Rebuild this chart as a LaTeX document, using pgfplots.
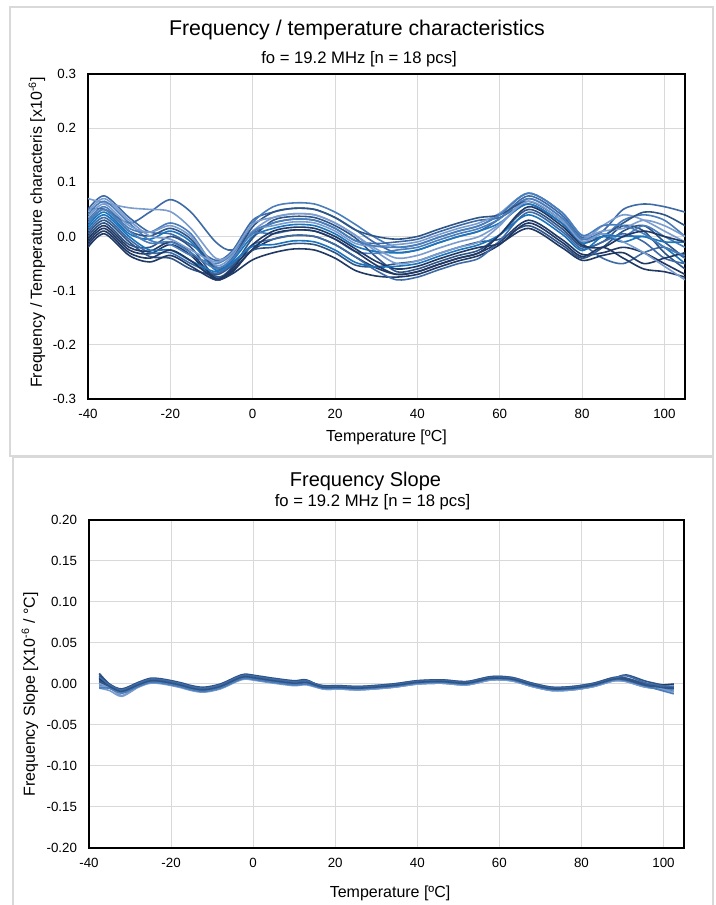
\documentclass[border=0pt]{standalone}
\usepackage{pgfplots}
\pgfplotsset{compat=1.18}
\usepackage{fontspec}
\setmainfont{Liberation Sans}
\definecolor{cA}{HTML}{203864}
\definecolor{cB}{HTML}{2F5587}
\definecolor{cC}{HTML}{3E6AA6}
\definecolor{cD}{HTML}{4A7EBB}
\definecolor{cE}{HTML}{7A9CCF}
\definecolor{cF}{HTML}{1C75BC}
\definecolor{gridc}{HTML}{D9D9D9}
\definecolor{panelc}{HTML}{D9D9D9}
\pgfplotsset{
  chartbase/.style={
    scale only axis,
    xmin=-40, xmax=105,
    xtick={-40,-20,0,20,40,60,80,100},
    grid=major,
    major grid style={draw=gridc, line width=0.75pt},
    axis line style={black, line width=1pt},
    major tick length=0pt,
    ticklabel style={font=\fontsize{10}{12}\selectfont},
    xticklabel style={yshift=-4pt},
    yticklabel style={xshift=-5.5pt},
    label style={font=\fontsize{12}{14}\selectfont},
    /pgf/number format/assume math mode=true,
    every axis plot/.append style={smooth, line width=1.2pt, mark=none},
  }
}
\begin{document}
\begin{tikzpicture}
\path[use as bounding box] (0pt,0pt) rectangle (536.25pt,678.75pt);
\draw[panelc, line width=0.8pt] (7.5pt,336.75pt) rectangle (534.75pt,673.5pt);
\draw[panelc, line width=0.8pt] (9.75pt,-2pt) -- (9.75pt,336pt) -- (534.75pt,336pt) -- (534.75pt,-2pt);
\node[font=\fontsize{16}{19}\selectfont] at (267.75pt,656.25pt) {Frequency / temperature characteristics};
\node[font=\fontsize{12.5}{15}\selectfont] at (269.25pt,634.5pt) {fo = 19.2 MHz [n = 18 pcs]};
\node[font=\fontsize{15}{18}\selectfont] at (274.1pt,318pt) {Frequency Slope};
\node[font=\fontsize{12.5}{15}\selectfont] at (279.4pt,302.25pt) {fo = 19.2 MHz [n = 18 pcs]};

\begin{axis}[chartbase,
  at={(66pt,379.5pt)}, anchor=south west,
  width=447.75pt, height=243.75pt,
  ymin=-0.3, ymax=0.3,
  ytick={-0.3,-0.2,-0.1,0,0.1,0.2,0.3},
  yticklabel style={/pgf/number format/.cd, fixed, fixed zerofill, precision=1},
  xlabel={Temperature [ºC]},
  ylabel={Frequency / Temperature characteris [x10\textsuperscript{-6}]},
  xlabel style={at={(axis description cs:0.5,-0.117)}, anchor=center},
  ylabel style={at={(axis description cs:-0.0854,0.512)}, anchor=center},
]
\addplot[cC] coordinates {(-40,0.050) (-36,0.075) (-30,0.035) (-25,0.008) (-20,0.005) (-15,-0.015) (-9,-0.044) (-5,-0.027) (0,0.030) (5,0.045) (10,0.052) (15,0.050) (20,0.035) (25,0.012) (30,-0.013) (35,-0.030) (40,-0.025) (45,-0.012) (50,0.000) (55,0.010) (60,0.033) (67,0.075) (75,0.040) (80,-0.002) (85,0.010) (90,0.050) (95,0.060) (100,0.055) (105,0.045)};
\addplot[cA] coordinates {(-40,-0.010) (-36,0.015) (-30,-0.025) (-25,-0.032) (-20,-0.015) (-15,-0.035) (-9,-0.080) (-5,-0.063) (0,-0.025) (5,-0.005) (10,0.002) (15,0.000) (20,-0.015) (25,-0.038) (30,-0.058) (35,-0.070) (40,-0.065) (45,-0.052) (50,-0.040) (55,-0.030) (60,-0.010) (67,0.030) (75,-0.005) (80,-0.033) (85,-0.030) (90,-0.020) (95,-0.030) (100,-0.050) (105,-0.070)};
\addplot[cD] coordinates {(-40,0.030) (-36,0.055) (-30,0.015) (-25,0.008) (-20,0.025) (-15,0.005) (-9,-0.056) (-5,-0.039) (0,0.025) (5,0.055) (10,0.062) (15,0.060) (20,0.045) (25,0.022) (30,-0.003) (35,-0.020) (40,-0.015) (45,-0.002) (50,0.010) (55,0.020) (60,0.040) (67,0.080) (75,0.045) (80,0.002) (85,0.000) (90,0.030) (95,0.040) (100,0.030) (105,0.000)};
\addplot[cB] coordinates {(-40,0.005) (-36,0.030) (-30,-0.010) (-25,-0.037) (-20,-0.040) (-15,-0.060) (-9,-0.071) (-5,-0.054) (0,-0.025) (5,-0.020) (10,-0.013) (15,-0.015) (20,-0.030) (25,-0.053) (30,-0.056) (35,-0.050) (40,-0.045) (45,-0.032) (50,-0.020) (55,-0.010) (60,-0.005) (67,0.020) (75,-0.015) (80,-0.040) (85,-0.020) (90,0.010) (95,0.020) (100,-0.010) (105,-0.040)};
\addplot[cC] coordinates {(-40,0.050) (-36,0.050) (-30,0.025) (-25,0.045) (-20,0.068) (-15,0.045) (-9,-0.010) (-5,-0.025) (0,0.005) (5,0.025) (10,0.032) (15,0.030) (20,0.015) (25,-0.008) (30,-0.013) (35,-0.010) (40,-0.005) (45,0.008) (50,0.020) (55,0.030) (60,0.035) (67,0.060) (75,0.025) (80,-0.012) (85,-0.040) (90,-0.050) (95,-0.030) (100,-0.020) (105,-0.040)};
\addplot[cE] coordinates {(-40,0.070) (-36,0.062) (-30,0.053) (-25,0.050) (-20,0.046) (-15,0.015) (-9,-0.040) (-5,-0.033) (0,0.010) (5,0.035) (10,0.042) (15,0.040) (20,0.025) (25,0.002) (30,-0.028) (35,-0.050) (40,-0.045) (45,-0.032) (50,-0.020) (55,-0.010) (60,0.020) (67,0.070) (75,0.035) (80,-0.005) (85,0.020) (90,0.040) (95,0.030) (100,0.010) (105,-0.010)};
\addplot[cF] coordinates {(-40,0.020) (-36,0.045) (-30,0.005) (-25,-0.005) (-20,0.010) (-15,-0.010) (-9,-0.062) (-5,-0.045) (0,0.000) (5,0.015) (10,0.022) (15,0.020) (20,0.005) (25,-0.018) (30,-0.028) (35,-0.030) (40,-0.025) (45,-0.012) (50,0.000) (55,0.010) (60,0.025) (67,0.060) (75,0.025) (80,-0.012) (85,0.000) (90,-0.010) (95,0.000) (100,-0.020) (105,-0.050)};
\addplot[cB] coordinates {(-40,0.000) (-36,0.025) (-30,-0.015) (-25,-0.020) (-20,0.000) (-15,-0.020) (-9,-0.074) (-5,-0.057) (0,-0.003) (5,0.030) (10,0.037) (15,0.035) (20,0.020) (25,-0.003) (30,-0.038) (35,-0.065) (40,-0.060) (45,-0.047) (50,-0.035) (55,-0.025) (60,0.003) (67,0.050) (75,0.015) (80,-0.019) (85,-0.010) (90,0.020) (95,0.010) (100,-0.030) (105,-0.060)};
\addplot[cD] coordinates {(-40,0.040) (-36,0.065) (-30,0.025) (-25,-0.007) (-20,-0.015) (-15,-0.035) (-9,-0.050) (-5,-0.033) (0,0.005) (5,0.005) (10,0.012) (15,0.010) (20,-0.005) (25,-0.028) (30,-0.031) (35,-0.025) (40,-0.020) (45,-0.007) (50,0.005) (55,0.015) (60,0.033) (67,0.070) (75,0.035) (80,-0.005) (85,0.005) (90,0.000) (95,0.020) (100,0.000) (105,-0.020)};
\addplot[cA] coordinates {(-40,-0.020) (-36,0.005) (-30,-0.035) (-25,-0.047) (-20,-0.035) (-15,-0.055) (-9,-0.080) (-5,-0.069) (0,-0.043) (5,-0.030) (10,-0.023) (15,-0.025) (20,-0.040) (25,-0.063) (30,-0.073) (35,-0.075) (40,-0.070) (45,-0.057) (50,-0.045) (55,-0.035) (60,-0.015) (67,0.025) (75,-0.010) (80,-0.037) (85,-0.020) (90,-0.040) (95,-0.060) (100,-0.065) (105,-0.075)};
\addplot[cE] coordinates {(-40,0.035) (-36,0.060) (-30,0.020) (-25,0.008) (-20,0.020) (-15,0.000) (-9,-0.053) (-5,-0.036) (0,0.010) (5,0.020) (10,0.027) (15,0.025) (20,0.010) (25,-0.013) (30,-0.018) (35,-0.015) (40,-0.010) (45,0.003) (50,0.015) (55,0.025) (60,0.043) (67,0.080) (75,0.045) (80,0.002) (85,0.010) (90,0.015) (95,0.030) (100,0.020) (105,0.000)};
\addplot[cC] coordinates {(-40,0.010) (-36,0.035) (-30,-0.005) (-25,-0.030) (-20,-0.030) (-15,-0.050) (-9,-0.068) (-5,-0.051) (0,-0.015) (5,-0.005) (10,0.002) (15,0.000) (20,-0.015) (25,-0.038) (30,-0.063) (35,-0.080) (40,-0.075) (45,-0.062) (50,-0.050) (55,-0.040) (60,-0.008) (67,0.045) (75,0.010) (80,-0.023) (85,-0.010) (90,0.005) (95,-0.010) (100,-0.040) (105,-0.050)};
\addplot[cB] coordinates {(-40,0.025) (-36,0.050) (-30,0.010) (-25,0.001) (-20,0.015) (-15,-0.005) (-9,-0.059) (-5,-0.042) (0,0.018) (5,0.045) (10,0.052) (15,0.050) (20,0.035) (25,0.012) (30,0.000) (35,-0.005) (40,0.000) (45,0.013) (50,0.025) (55,0.035) (60,0.040) (67,0.065) (75,0.030) (80,-0.009) (85,0.000) (90,0.025) (95,0.045) (100,0.040) (105,0.020)};
\addplot[cA] coordinates {(-40,-0.005) (-36,0.020) (-30,-0.020) (-25,-0.027) (-20,-0.010) (-15,-0.030) (-9,-0.077) (-5,-0.060) (0,-0.015) (5,0.010) (10,0.017) (15,0.015) (20,0.000) (25,-0.023) (30,-0.046) (35,-0.060) (40,-0.055) (45,-0.042) (50,-0.030) (55,-0.020) (60,-0.013) (67,0.015) (75,-0.020) (80,-0.044) (85,-0.035) (90,-0.030) (95,-0.050) (100,-0.040) (105,-0.030)};
\addplot[cE] coordinates {(-40,0.045) (-36,0.070) (-30,0.030) (-25,0.001) (-20,-0.005) (-15,-0.025) (-9,-0.047) (-5,-0.030) (0,0.023) (5,0.035) (10,0.042) (15,0.040) (20,0.025) (25,0.002) (30,-0.023) (35,-0.040) (40,-0.035) (45,-0.022) (50,-0.010) (55,0.000) (60,0.023) (67,0.065) (75,0.030) (80,-0.009) (85,0.005) (90,-0.010) (95,-0.030) (100,-0.055) (105,-0.080)};
\addplot[cF] coordinates {(-40,0.015) (-36,0.040) (-30,0.000) (-25,-0.025) (-20,-0.025) (-15,-0.045) (-9,-0.065) (-5,-0.048) (0,-0.018) (5,-0.015) (10,-0.008) (15,-0.010) (20,-0.025) (25,-0.048) (30,-0.056) (35,-0.055) (40,-0.050) (45,-0.037) (50,-0.025) (55,-0.015) (60,0.003) (67,0.040) (75,0.005) (80,-0.026) (85,0.000) (90,0.000) (95,0.000) (100,-0.010) (105,-0.010)};
\addplot[cD] coordinates {(-40,0.025) (-36,0.050) (-30,0.010) (-25,-0.012) (-20,-0.010) (-15,-0.030) (-9,-0.059) (-5,-0.042) (0,0.008) (5,0.025) (10,0.032) (15,0.030) (20,0.015) (25,-0.008) (30,-0.018) (35,-0.020) (40,-0.015) (45,-0.002) (50,0.010) (55,0.020) (60,0.040) (67,0.080) (75,0.045) (80,0.002) (85,0.020) (90,0.020) (95,0.005) (100,-0.020) (105,-0.035)};
\addplot[cA] coordinates {(-40,-0.015) (-36,0.010) (-30,-0.030) (-25,-0.040) (-20,-0.025) (-15,-0.045) (-9,-0.078) (-5,-0.066) (0,-0.023) (5,0.005) (10,0.012) (15,0.010) (20,-0.005) (25,-0.028) (30,-0.053) (35,-0.070) (40,-0.065) (45,-0.052) (50,-0.040) (55,-0.030) (60,0.003) (67,0.055) (75,0.020) (80,-0.016) (85,-0.020) (90,0.000) (95,0.010) (100,0.000) (105,-0.010)};
\end{axis}

\begin{axis}[chartbase,
  at={(66.75pt,42.75pt)}, anchor=south west,
  width=446.25pt, height=246pt,
  ymin=-0.2, ymax=0.2,
  ytick={-0.2,-0.15,-0.1,-0.05,0,0.05,0.1,0.15,0.2},
  yticklabel style={/pgf/number format/.cd, fixed, fixed zerofill, precision=2},
  xlabel={Temperature [ºC]},
  ylabel={Frequency Slope [X10\textsuperscript{-6} / °C]},
  xlabel style={at={(axis description cs:0.506,-0.137)}, anchor=center},
  ylabel style={at={(axis description cs:-0.0992,0.468)}, anchor=center},
]
\addplot[cC] coordinates {(-37.5,0.012) (-35,-0.001) (-32,-0.007) (-28,0.001) (-25,0.006) (-22,0.005) (-18,0.001) (-15,-0.003) (-12,-0.005) (-8,-0.001) (-4,0.008) (-2,0.011) (1,0.009) (5,0.006) (10,0.003) (13,0.004) (17,-0.003) (21,-0.003) (26,-0.004) (34,-0.001) (40,0.003) (46,0.004) (52,0.002) (58,0.008) (63,0.007) (68,0.000) (73,-0.005) (78,-0.004) (83,0.000) (88,0.007) (91,0.006) (96,-0.001) (102.5,-0.004)};
\addplot[cA] coordinates {(-37.5,-0.004) (-35,-0.005) (-32,-0.011) (-28,-0.003) (-25,0.002) (-22,0.001) (-18,-0.003) (-15,-0.007) (-12,-0.009) (-8,-0.005) (-4,0.004) (-2,0.007) (1,0.005) (5,0.002) (10,-0.001) (13,0.000) (17,-0.005) (21,-0.005) (26,-0.006) (34,-0.003) (40,0.001) (46,0.002) (52,0.000) (58,0.006) (63,0.005) (68,-0.002) (73,-0.007) (78,-0.006) (83,-0.002) (88,0.005) (91,0.004) (96,-0.003) (102.5,-0.006)};
\addplot[cD] coordinates {(-37.5,0.008) (-35,-0.002) (-32,-0.008) (-28,0.000) (-25,0.005) (-22,0.004) (-18,0.000) (-15,-0.004) (-12,-0.006) (-8,-0.002) (-4,0.007) (-2,0.010) (1,0.008) (5,0.005) (10,0.002) (13,0.003) (17,-0.006) (21,-0.006) (26,-0.007) (34,-0.004) (40,0.000) (46,0.001) (52,-0.001) (58,0.005) (63,0.004) (68,-0.003) (73,-0.008) (78,-0.007) (83,-0.003) (88,0.004) (91,0.003) (96,-0.004) (102.5,-0.007)};
\addplot[cE] coordinates {(-37.5,0.000) (-35,-0.004) (-32,-0.014) (-28,-0.002) (-25,0.003) (-22,0.002) (-18,-0.002) (-15,-0.006) (-12,-0.008) (-8,-0.004) (-4,0.005) (-2,0.008) (1,0.006) (5,0.003) (10,0.000) (13,0.001) (17,-0.002) (21,-0.002) (26,-0.003) (34,0.000) (40,0.004) (46,0.005) (52,0.003) (58,0.009) (63,0.008) (68,0.001) (73,-0.004) (78,-0.003) (83,0.001) (88,0.008) (91,0.007) (96,0.000) (102.5,-0.003)};
\addplot[cB] coordinates {(-37.5,0.013) (-35,0.000) (-32,-0.006) (-28,0.002) (-25,0.007) (-22,0.006) (-18,0.002) (-15,-0.002) (-12,-0.004) (-8,0.000) (-4,0.009) (-2,0.012) (1,0.010) (5,0.007) (10,0.004) (13,0.005) (17,-0.004) (21,-0.004) (26,-0.005) (34,-0.002) (40,0.002) (46,0.003) (52,0.001) (58,0.007) (63,0.006) (68,-0.001) (73,-0.006) (78,-0.005) (83,-0.001) (88,0.007) (91,0.011) (96,0.003) (102.5,-0.004)};
\addplot[cC] coordinates {(-37.5,0.002) (-35,-0.003) (-32,-0.009) (-28,-0.001) (-25,0.004) (-22,0.003) (-18,-0.001) (-15,-0.005) (-12,-0.007) (-8,-0.003) (-4,0.006) (-2,0.009) (1,0.007) (5,0.004) (10,0.001) (13,0.002) (17,-0.003) (21,-0.003) (26,-0.004) (34,-0.001) (40,0.003) (46,0.004) (52,0.002) (58,0.008) (63,0.007) (68,0.000) (73,-0.005) (78,-0.004) (83,0.000) (88,0.007) (91,0.006) (96,-0.001) (102.5,-0.004)};
\addplot[cE] coordinates {(-37.5,-0.005) (-35,-0.008) (-32,-0.015) (-28,-0.004) (-25,0.001) (-22,0.000) (-18,-0.004) (-15,-0.008) (-12,-0.010) (-8,-0.006) (-4,0.003) (-2,0.006) (1,0.004) (5,0.001) (10,-0.002) (13,-0.001) (17,-0.006) (21,-0.006) (26,-0.007) (34,-0.004) (40,0.000) (46,0.001) (52,-0.001) (58,0.005) (63,0.004) (68,-0.003) (73,-0.008) (78,-0.007) (83,-0.003) (88,0.004) (91,0.003) (96,-0.004) (102.5,-0.007)};
\addplot[cB] coordinates {(-37.5,0.006) (-35,-0.002) (-32,-0.008) (-28,0.000) (-25,0.005) (-22,0.004) (-18,0.000) (-15,-0.004) (-12,-0.006) (-8,-0.002) (-4,0.007) (-2,0.010) (1,0.008) (5,0.005) (10,0.002) (13,0.003) (17,-0.003) (21,-0.003) (26,-0.004) (34,-0.001) (40,0.003) (46,0.004) (52,0.002) (58,0.008) (63,0.007) (68,0.000) (73,-0.005) (78,-0.004) (83,0.000) (88,0.007) (91,0.006) (96,-0.001) (102.5,-0.001)};
\addplot[cD] coordinates {(-37.5,-0.002) (-35,-0.004) (-32,-0.010) (-28,-0.002) (-25,0.003) (-22,0.002) (-18,-0.002) (-15,-0.006) (-12,-0.008) (-8,-0.004) (-4,0.005) (-2,0.008) (1,0.006) (5,0.003) (10,0.000) (13,0.001) (17,-0.005) (21,-0.005) (26,-0.006) (34,-0.003) (40,0.001) (46,0.002) (52,0.000) (58,0.006) (63,0.005) (68,-0.002) (73,-0.007) (78,-0.006) (83,-0.002) (88,0.005) (91,0.004) (96,-0.003) (102.5,-0.009)};
\addplot[cA] coordinates {(-37.5,0.010) (-35,-0.001) (-32,-0.007) (-28,0.001) (-25,0.006) (-22,0.005) (-18,0.001) (-15,-0.003) (-12,-0.005) (-8,-0.001) (-4,0.008) (-2,0.011) (1,0.009) (5,0.006) (10,0.003) (13,0.004) (17,-0.004) (21,-0.004) (26,-0.005) (34,-0.002) (40,0.002) (46,0.003) (52,0.001) (58,0.007) (63,0.006) (68,-0.001) (73,-0.006) (78,-0.005) (83,-0.001) (88,0.006) (91,0.005) (96,-0.002) (102.5,0.000)};
\addplot[cC] coordinates {(-37.5,0.005) (-35,-0.003) (-32,-0.009) (-28,-0.001) (-25,0.004) (-22,0.003) (-18,-0.001) (-15,-0.005) (-12,-0.007) (-8,-0.003) (-4,0.006) (-2,0.009) (1,0.007) (5,0.004) (10,0.001) (13,0.002) (17,-0.005) (21,-0.005) (26,-0.006) (34,-0.003) (40,0.001) (46,0.002) (52,0.000) (58,0.006) (63,0.005) (68,-0.002) (73,-0.007) (78,-0.006) (83,-0.002) (88,0.005) (91,0.004) (96,-0.003) (102.5,-0.006)};
\addplot[cE] coordinates {(-37.5,0.001) (-35,-0.005) (-32,-0.011) (-28,-0.003) (-25,0.002) (-22,0.001) (-18,-0.003) (-15,-0.007) (-12,-0.009) (-8,-0.005) (-4,0.004) (-2,0.007) (1,0.005) (5,0.002) (10,-0.001) (13,0.000) (17,-0.003) (21,-0.003) (26,-0.004) (34,-0.001) (40,0.003) (46,0.004) (52,0.002) (58,0.008) (63,0.007) (68,0.000) (73,-0.005) (78,-0.004) (83,0.000) (88,0.007) (91,0.006) (96,-0.001) (102.5,-0.010)};
\addplot[cB] coordinates {(-37.5,0.003) (-35,-0.002) (-32,-0.008) (-28,0.000) (-25,0.005) (-22,0.004) (-18,0.000) (-15,-0.004) (-12,-0.006) (-8,-0.002) (-4,0.007) (-2,0.010) (1,0.008) (5,0.005) (10,0.002) (13,0.003) (17,-0.002) (21,-0.002) (26,-0.003) (34,0.000) (40,0.004) (46,0.005) (52,0.003) (58,0.009) (63,0.008) (68,0.001) (73,-0.004) (78,-0.003) (83,0.001) (88,0.008) (91,0.007) (96,0.000) (102.5,-0.003)};
\addplot[cA] coordinates {(-37.5,0.007) (-35,-0.004) (-32,-0.010) (-28,-0.002) (-25,0.003) (-22,0.002) (-18,-0.002) (-15,-0.006) (-12,-0.008) (-8,-0.004) (-4,0.005) (-2,0.008) (1,0.006) (5,0.003) (10,0.000) (13,0.001) (17,-0.004) (21,-0.004) (26,-0.005) (34,-0.002) (40,0.002) (46,0.003) (52,0.001) (58,0.007) (63,0.006) (68,-0.001) (73,-0.006) (78,-0.005) (83,-0.001) (88,0.006) (91,0.005) (96,-0.002) (102.5,-0.005)};
\addplot[cE] coordinates {(-37.5,-0.003) (-35,-0.003) (-32,-0.009) (-28,-0.001) (-25,0.004) (-22,0.003) (-18,-0.001) (-15,-0.005) (-12,-0.007) (-8,-0.003) (-4,0.006) (-2,0.009) (1,0.007) (5,0.004) (10,0.001) (13,0.002) (17,-0.006) (21,-0.006) (26,-0.007) (34,-0.004) (40,0.000) (46,0.001) (52,-0.001) (58,0.005) (63,0.004) (68,-0.003) (73,-0.008) (78,-0.007) (83,-0.003) (88,0.004) (91,0.003) (96,-0.004) (102.5,-0.002)};
\addplot[cC] coordinates {(-37.5,0.009) (-35,-0.001) (-32,-0.007) (-28,0.001) (-25,0.006) (-22,0.005) (-18,0.001) (-15,-0.003) (-12,-0.005) (-8,-0.001) (-4,0.008) (-2,0.011) (1,0.009) (5,0.006) (10,0.003) (13,0.004) (17,-0.003) (21,-0.003) (26,-0.004) (34,-0.001) (40,0.003) (46,0.004) (52,0.002) (58,0.008) (63,0.007) (68,0.000) (73,-0.005) (78,-0.004) (83,0.000) (88,0.007) (91,0.010) (96,0.001) (102.5,-0.004)};
\addplot[cD] coordinates {(-37.5,-0.005) (-35,-0.005) (-32,-0.011) (-28,-0.003) (-25,0.002) (-22,0.001) (-18,-0.003) (-15,-0.007) (-12,-0.009) (-8,-0.005) (-4,0.004) (-2,0.007) (1,0.005) (5,0.002) (10,-0.001) (13,0.000) (17,-0.005) (21,-0.005) (26,-0.006) (34,-0.003) (40,0.001) (46,0.002) (52,0.000) (58,0.006) (63,0.005) (68,-0.002) (73,-0.007) (78,-0.006) (83,-0.002) (88,0.005) (91,0.004) (96,-0.003) (102.5,-0.012)};
\addplot[cB] coordinates {(-37.5,0.004) (-35,-0.003) (-32,-0.009) (-28,-0.001) (-25,0.004) (-22,0.003) (-18,-0.001) (-15,-0.005) (-12,-0.007) (-8,-0.003) (-4,0.006) (-2,0.009) (1,0.007) (5,0.004) (10,0.001) (13,0.002) (17,-0.004) (21,-0.004) (26,-0.005) (34,-0.002) (40,0.002) (46,0.003) (52,0.001) (58,0.007) (63,0.006) (68,-0.001) (73,-0.006) (78,-0.005) (83,-0.001) (88,0.006) (91,0.005) (96,-0.002) (102.5,-0.005)};
\end{axis}
\end{tikzpicture}
\end{document}
